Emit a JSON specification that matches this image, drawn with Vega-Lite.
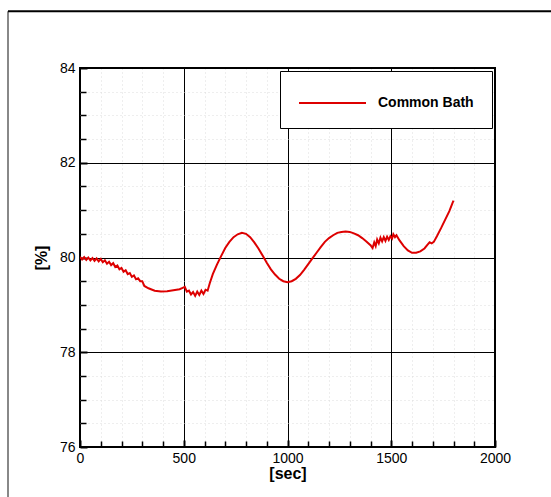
{
  "$schema": "https://vega.github.io/schema/vega-lite/v6.json",
  "width": 415,
  "height": 379,
  "autosize": {"type": "none"},
  "padding": {"left": 80, "top": 68, "right": 56, "bottom": 50},
  "background": "white",
  "config": {
    "view": {"stroke": "black", "strokeWidth": 2},
    "font": "Liberation Sans",
    "axis": {"labelFont": "Liberation Sans", "titleFont": "Liberation Sans", "labelFlush": false}
  },
  "datasets": {
    "bath": [
      {"t": 0, "v": 80.01, "series": "Common Bath"},
      {"t": 10, "v": 79.96, "series": "Common Bath"},
      {"t": 20, "v": 80.01, "series": "Common Bath"},
      {"t": 30, "v": 79.95, "series": "Common Bath"},
      {"t": 40, "v": 80.0, "series": "Common Bath"},
      {"t": 50, "v": 79.94, "series": "Common Bath"},
      {"t": 60, "v": 79.99, "series": "Common Bath"},
      {"t": 70, "v": 79.93, "series": "Common Bath"},
      {"t": 80, "v": 79.98, "series": "Common Bath"},
      {"t": 90, "v": 79.92, "series": "Common Bath"},
      {"t": 100, "v": 79.97, "series": "Common Bath"},
      {"t": 110, "v": 79.9, "series": "Common Bath"},
      {"t": 120, "v": 79.94, "series": "Common Bath"},
      {"t": 130, "v": 79.87, "series": "Common Bath"},
      {"t": 140, "v": 79.91, "series": "Common Bath"},
      {"t": 150, "v": 79.84, "series": "Common Bath"},
      {"t": 160, "v": 79.88, "series": "Common Bath"},
      {"t": 170, "v": 79.8, "series": "Common Bath"},
      {"t": 180, "v": 79.83, "series": "Common Bath"},
      {"t": 190, "v": 79.75, "series": "Common Bath"},
      {"t": 200, "v": 79.78, "series": "Common Bath"},
      {"t": 210, "v": 79.7, "series": "Common Bath"},
      {"t": 220, "v": 79.73, "series": "Common Bath"},
      {"t": 230, "v": 79.65, "series": "Common Bath"},
      {"t": 240, "v": 79.67, "series": "Common Bath"},
      {"t": 250, "v": 79.59, "series": "Common Bath"},
      {"t": 260, "v": 79.62, "series": "Common Bath"},
      {"t": 270, "v": 79.54, "series": "Common Bath"},
      {"t": 280, "v": 79.56, "series": "Common Bath"},
      {"t": 290, "v": 79.5, "series": "Common Bath"},
      {"t": 300, "v": 79.5, "series": "Common Bath"},
      {"t": 310, "v": 79.4, "series": "Common Bath"},
      {"t": 330, "v": 79.35, "series": "Common Bath"},
      {"t": 360, "v": 79.3, "series": "Common Bath"},
      {"t": 390, "v": 79.28, "series": "Common Bath"},
      {"t": 420, "v": 79.29, "series": "Common Bath"},
      {"t": 450, "v": 79.31, "series": "Common Bath"},
      {"t": 480, "v": 79.33, "series": "Common Bath"},
      {"t": 495, "v": 79.36, "series": "Common Bath"},
      {"t": 505, "v": 79.38, "series": "Common Bath"},
      {"t": 515, "v": 79.28, "series": "Common Bath"},
      {"t": 525, "v": 79.3, "series": "Common Bath"},
      {"t": 535, "v": 79.22, "series": "Common Bath"},
      {"t": 545, "v": 79.27, "series": "Common Bath"},
      {"t": 555, "v": 79.19, "series": "Common Bath"},
      {"t": 565, "v": 79.28, "series": "Common Bath"},
      {"t": 575, "v": 79.21, "series": "Common Bath"},
      {"t": 585, "v": 79.3, "series": "Common Bath"},
      {"t": 595, "v": 79.23, "series": "Common Bath"},
      {"t": 605, "v": 79.32, "series": "Common Bath"},
      {"t": 615, "v": 79.3, "series": "Common Bath"},
      {"t": 625, "v": 79.45, "series": "Common Bath"},
      {"t": 640, "v": 79.65, "series": "Common Bath"},
      {"t": 660, "v": 79.85, "series": "Common Bath"},
      {"t": 680, "v": 80.03, "series": "Common Bath"},
      {"t": 700, "v": 80.2, "series": "Common Bath"},
      {"t": 720, "v": 80.33, "series": "Common Bath"},
      {"t": 740, "v": 80.43, "series": "Common Bath"},
      {"t": 760, "v": 80.49, "series": "Common Bath"},
      {"t": 780, "v": 80.52, "series": "Common Bath"},
      {"t": 800, "v": 80.5, "series": "Common Bath"},
      {"t": 820, "v": 80.43, "series": "Common Bath"},
      {"t": 840, "v": 80.32, "series": "Common Bath"},
      {"t": 860, "v": 80.19, "series": "Common Bath"},
      {"t": 880, "v": 80.04, "series": "Common Bath"},
      {"t": 900, "v": 79.89, "series": "Common Bath"},
      {"t": 920, "v": 79.75, "series": "Common Bath"},
      {"t": 940, "v": 79.64, "series": "Common Bath"},
      {"t": 960, "v": 79.55, "series": "Common Bath"},
      {"t": 980, "v": 79.5, "series": "Common Bath"},
      {"t": 1000, "v": 79.48, "series": "Common Bath"},
      {"t": 1020, "v": 79.5, "series": "Common Bath"},
      {"t": 1040, "v": 79.55, "series": "Common Bath"},
      {"t": 1060, "v": 79.63, "series": "Common Bath"},
      {"t": 1080, "v": 79.74, "series": "Common Bath"},
      {"t": 1100, "v": 79.86, "series": "Common Bath"},
      {"t": 1120, "v": 79.98, "series": "Common Bath"},
      {"t": 1140, "v": 80.1, "series": "Common Bath"},
      {"t": 1160, "v": 80.22, "series": "Common Bath"},
      {"t": 1180, "v": 80.33, "series": "Common Bath"},
      {"t": 1200, "v": 80.41, "series": "Common Bath"},
      {"t": 1220, "v": 80.47, "series": "Common Bath"},
      {"t": 1240, "v": 80.52, "series": "Common Bath"},
      {"t": 1260, "v": 80.54, "series": "Common Bath"},
      {"t": 1280, "v": 80.55, "series": "Common Bath"},
      {"t": 1300, "v": 80.54, "series": "Common Bath"},
      {"t": 1320, "v": 80.51, "series": "Common Bath"},
      {"t": 1340, "v": 80.47, "series": "Common Bath"},
      {"t": 1360, "v": 80.41, "series": "Common Bath"},
      {"t": 1380, "v": 80.34, "series": "Common Bath"},
      {"t": 1400, "v": 80.26, "series": "Common Bath"},
      {"t": 1410, "v": 80.2, "series": "Common Bath"},
      {"t": 1418, "v": 80.32, "series": "Common Bath"},
      {"t": 1425, "v": 80.24, "series": "Common Bath"},
      {"t": 1432, "v": 80.38, "series": "Common Bath"},
      {"t": 1440, "v": 80.3, "series": "Common Bath"},
      {"t": 1448, "v": 80.42, "series": "Common Bath"},
      {"t": 1456, "v": 80.34, "series": "Common Bath"},
      {"t": 1464, "v": 80.43, "series": "Common Bath"},
      {"t": 1472, "v": 80.35, "series": "Common Bath"},
      {"t": 1480, "v": 80.44, "series": "Common Bath"},
      {"t": 1488, "v": 80.37, "series": "Common Bath"},
      {"t": 1496, "v": 80.45, "series": "Common Bath"},
      {"t": 1504, "v": 80.4, "series": "Common Bath"},
      {"t": 1510, "v": 80.49, "series": "Common Bath"},
      {"t": 1518, "v": 80.43, "series": "Common Bath"},
      {"t": 1525, "v": 80.47, "series": "Common Bath"},
      {"t": 1540, "v": 80.36, "series": "Common Bath"},
      {"t": 1560, "v": 80.24, "series": "Common Bath"},
      {"t": 1580, "v": 80.15, "series": "Common Bath"},
      {"t": 1600, "v": 80.1, "series": "Common Bath"},
      {"t": 1620, "v": 80.1, "series": "Common Bath"},
      {"t": 1640, "v": 80.13, "series": "Common Bath"},
      {"t": 1660, "v": 80.19, "series": "Common Bath"},
      {"t": 1675, "v": 80.27, "series": "Common Bath"},
      {"t": 1685, "v": 80.32, "series": "Common Bath"},
      {"t": 1695, "v": 80.3, "series": "Common Bath"},
      {"t": 1705, "v": 80.33, "series": "Common Bath"},
      {"t": 1720, "v": 80.45, "series": "Common Bath"},
      {"t": 1740, "v": 80.62, "series": "Common Bath"},
      {"t": 1760, "v": 80.8, "series": "Common Bath"},
      {"t": 1780, "v": 80.98, "series": "Common Bath"},
      {"t": 1795, "v": 81.15, "series": "Common Bath"},
      {"t": 1800, "v": 81.2, "series": "Common Bath"}
    ],
    "frameLeft": [{"x": -347, "y1": 85.2, "y2": 74.9}],
    "frameTop": [{"x1": -347, "x2": 2270, "y": 85.2}]
  },
  "resolve": {"axis": {"x": "independent", "y": "independent"}},
  "layer": [
    {
      "data": {"name": "bath"},
      "mark": {"type": "line", "strokeOpacity": 0},
      "encoding": {
        "x": {
          "field": "t", "type": "quantitative",
          "scale": {"domain": [0, 2000], "nice": false},
          "axis": {
            "orient": "bottom",
            "values": [100, 200, 300, 400, 600, 700, 800, 900, 1100, 1200, 1300, 1400, 1600, 1700, 1800, 1900],
            "labels": false, "domain": false, "title": null,
            "tickSize": -6, "tickColor": "black", "tickWidth": 1.5,
            "grid": true, "gridColor": "#dcdcdc", "gridDash": [1, 3], "gridWidth": 1
          }
        },
        "y": {
          "field": "v", "type": "quantitative",
          "scale": {"domain": [76, 84], "nice": false, "zero": false},
          "axis": {
            "orient": "left",
            "values": [76.5, 77, 77.5, 78.5, 79, 79.5, 80.5, 81, 81.5, 82.5, 83, 83.5],
            "labels": false, "domain": false, "title": null,
            "tickSize": -6, "tickColor": "black", "tickWidth": 1.5,
            "grid": true, "gridColor": "#dcdcdc", "gridDash": [1, 3], "gridWidth": 1
          }
        }
      }
    },
    {
      "data": {"name": "bath"},
      "mark": {"type": "line", "strokeWidth": 2, "clip": true},
      "encoding": {
        "x": {
          "field": "t", "type": "quantitative",
          "axis": {
            "orient": "bottom",
            "values": [0, 500, 1000, 1500, 2000],
            "format": "d",
            "domain": false,
            "tickSize": -7, "tickColor": "black", "tickWidth": 2,
            "grid": true, "gridColor": "black", "gridWidth": 1,
            "labelFontSize": 14, "labelColor": "black", "labelPadding": 11,
            "title": "[sec]", "titleFontSize": 16, "titleFontWeight": "bold",
            "titleColor": "black", "titlePadding": 0
          }
        },
        "y": {
          "field": "v", "type": "quantitative",
          "axis": {
            "orient": "left",
            "values": [76, 78, 80, 82, 84],
            "format": "d",
            "domain": false,
            "tickSize": -7, "tickColor": "black", "tickWidth": 2,
            "grid": true, "gridColor": "black", "gridWidth": 1,
            "labelFontSize": 14, "labelColor": "black", "labelPadding": 12,
            "title": "[%]", "titleFontSize": 16, "titleFontWeight": "bold",
            "titleColor": "black", "titlePadding": 10
          }
        },
        "color": {
          "field": "series", "type": "nominal",
          "scale": {"range": ["#dd0000"]},
          "legend": {
            "orient": "none", "legendX": 200, "legendY": 3,
            "title": null, "symbolType": "M-1,0H4.154", "symbolSize": 676,
            "symbolStrokeWidth": 2, "labelFontSize": 14, "labelFontWeight": "bold",
            "labelColor": "black", "labelOffset": 52,
            "strokeColor": "black", "fillColor": "white", "padding": 18
          }
        }
      }
    },
    {
      "data": {"name": "frameLeft"},
      "mark": {"type": "rule", "clip": false, "stroke": "#888888", "strokeWidth": 2},
      "encoding": {
        "x": {"field": "x", "type": "quantitative", "axis": null},
        "y": {"field": "y1", "type": "quantitative", "axis": null},
        "y2": {"field": "y2"}
      }
    },
    {
      "data": {"name": "frameTop"},
      "mark": {"type": "rule", "clip": false, "stroke": "black", "strokeWidth": 2},
      "encoding": {
        "x": {"field": "x1", "type": "quantitative", "axis": null},
        "x2": {"field": "x2"},
        "y": {"field": "y", "type": "quantitative", "axis": null}
      }
    }
  ]
}
